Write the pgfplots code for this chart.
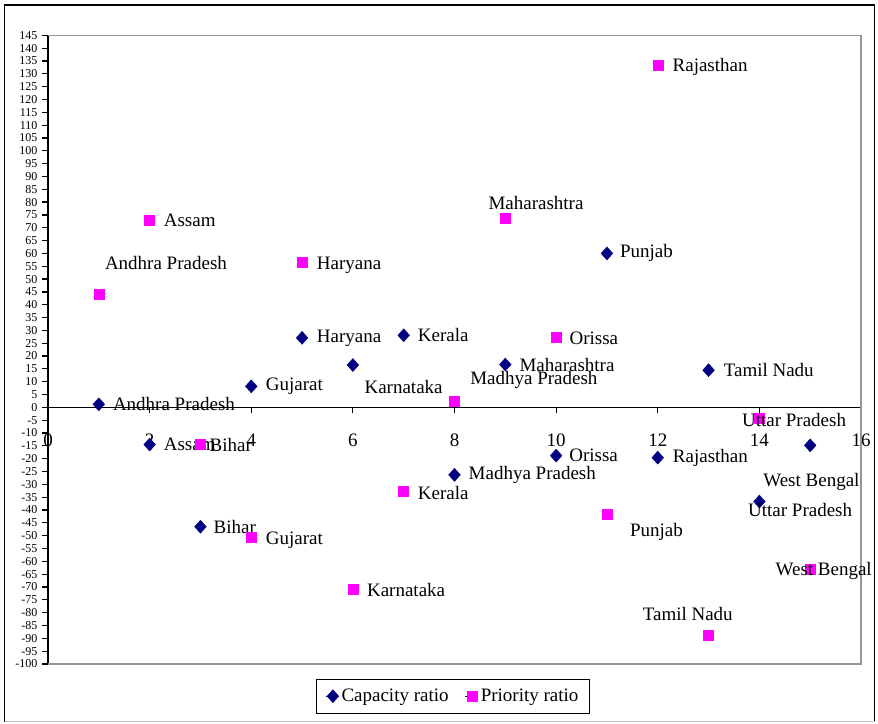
\documentclass[border=0pt]{standalone}
\usepackage{fontspec}
\setmainfont{Liberation Serif}
\usepackage{pgfplots}
\pgfplotsset{compat=1.18}
\usepackage{pgfplotstable}
\definecolor{navyc}{RGB}{0,0,128}
\definecolor{magc}{RGB}{255,0,255}
\definecolor{framegray}{RGB}{150,150,150}

% x, y, label, dx (to text left, pt), dy (upward shift, pt)
\pgfplotstableread[col sep=comma,row sep=\\]{
x,y,label,dx,dy\\
1,1.2,Andhra Pradesh,14,0\\
2,-14.5,Assam,14,0\\
3,-46.5,Bihar,13,0\\
4,8.2,Gujarat,14.5,0\\
5,27.1,Haryana,14.7,0\\
6,16.5,Karnataka,11.5,-22\\
7,28.1,Kerala,14,0\\
8,-26.3,Madhya Pradesh,14,0\\
9,16.7,Maharashtra,14,0\\
10,-18.8,Orissa,13,0\\
11,60,Punjab,13,0\\
12,-19.6,Rajasthan,15,0\\
13,14.5,Tamil Nadu,15,0\\
14,-36.7,Uttar Pradesh,-11.4,-8\\
15,-14.8,West Bengal,-47,-36.7\\
}\capdata

\pgfplotstableread[col sep=comma,row sep=\\]{
x,y,label,dx,dy\\
1,44,Andhra Pradesh,6,31.6\\
2,73,Assam,14,0\\
3,-14.5,Bihar,9,0\\
4,-50.7,Gujarat,14.5,-2.6\\
5,56.5,Haryana,14.7,-2.7\\
6,-70.8,Karnataka,14,-1\\
7,-32.7,Kerala,14,-2\\
8,2.5,Madhya Pradesh,15.6,20.7\\
9,73.7,Maharashtra,-17,15\\
10,27.5,Orissa,13.3,-1.6\\
11,-41.8,Punjab,23,-17.7\\
12,133.3,Rajasthan,14.7,-1.6\\
13,-88.7,Tamil Nadu,-66,21.3\\
14,-4.2,Uttar Pradesh,-17.5,-1.6\\
15,-63,West Bengal,-34.7,-1.7\\
}\pridata

\begin{document}
\begin{tikzpicture}[x=1pt,y=1pt]
\begin{axis}[
  at={(48pt,59pt)}, anchor=south west,
  scale only axis, width=813pt, height=628.7pt,
  xmin=0, xmax=16, ymin=-100, ymax=145,
  enlargelimits=false, clip=false,
  axis x line=middle, axis y line=left,
  axis line style={-},
  x axis line style={black, line width=1.3pt},
  y axis line style={black, line width=1.8pt},
  hide obscured x ticks=false, hide obscured y ticks=false,
  xtick={0,2,...,16}, ytick={-100,-95,...,145},
  minor tick num=0,
  tick align=outside,
  major tick length=6pt,
  tick style={black, line width=1.2pt},
  /pgf/number format/assume math mode=true,
  xticklabel style={font=\fontsize{19}{22}\selectfont, yshift=-17pt},
  yticklabel style={font=\fontsize{12}{13}\selectfont, xshift=-1pt},
  legend style={at={(0.498,-0.0512)}, anchor=center, draw=black, line width=1.2pt,
    font=\fontsize{19}{22}\selectfont, inner xsep=9pt, inner ysep=8pt,
    /tikz/every even column/.append style={column sep=14pt}},
  legend columns=2,
  legend image code/.code={\path (-4pt,0pt) -- (9pt,0pt); \draw[#1, line width=0.4pt] plot coordinates {(3pt,0pt)};},
  every node near coord/.append style={font=\fontsize{19}{22}\selectfont, text=black, inner sep=0pt, anchor=west},
]
\draw[framegray, line width=1.5pt] (rel axis cs:0,1) -- (rel axis cs:1,1) -- (rel axis cs:1,0) -- (rel axis cs:0,0);

\addplot[only marks, mark=diamond*, mark size=6.5pt,
  mark options={fill=navyc, draw=navyc, line width=0.4pt, xscale=1.2},
  nodes near coords, point meta=explicit symbolic,
  visualization depends on={\thisrow{dx} \as \ldx},
  visualization depends on={\thisrow{dy} \as \ldy},
  nodes near coords style={xshift=\ldx pt, yshift=\ldy pt},
] table[x=x, y=y, meta=label] {\capdata};
\addlegendentry{Capacity ratio}

\addplot[only marks, mark=square*, mark size=5pt,
  mark options={fill=magc, draw=magc, line width=0.4pt},
  nodes near coords, point meta=explicit symbolic,
  visualization depends on={\thisrow{dx} \as \ldx},
  visualization depends on={\thisrow{dy} \as \ldy},
  nodes near coords style={xshift=\ldx pt, yshift=\ldy pt},
] table[x=x, y=y, meta=label] {\pridata};
\addlegendentry{Priority ratio}
\end{axis}
\draw[black, line width=1.6pt] (4.5,1.5) -- (4.5,718) -- (874.5,718) -- (874.5,1.5);
\draw[framegray!60, line width=1.2pt] (4.5,1.2) -- (874.5,1.2);
\pgfresetboundingbox
\useasboundingbox (0,0) rectangle (878,723);
\end{tikzpicture}
\end{document}
